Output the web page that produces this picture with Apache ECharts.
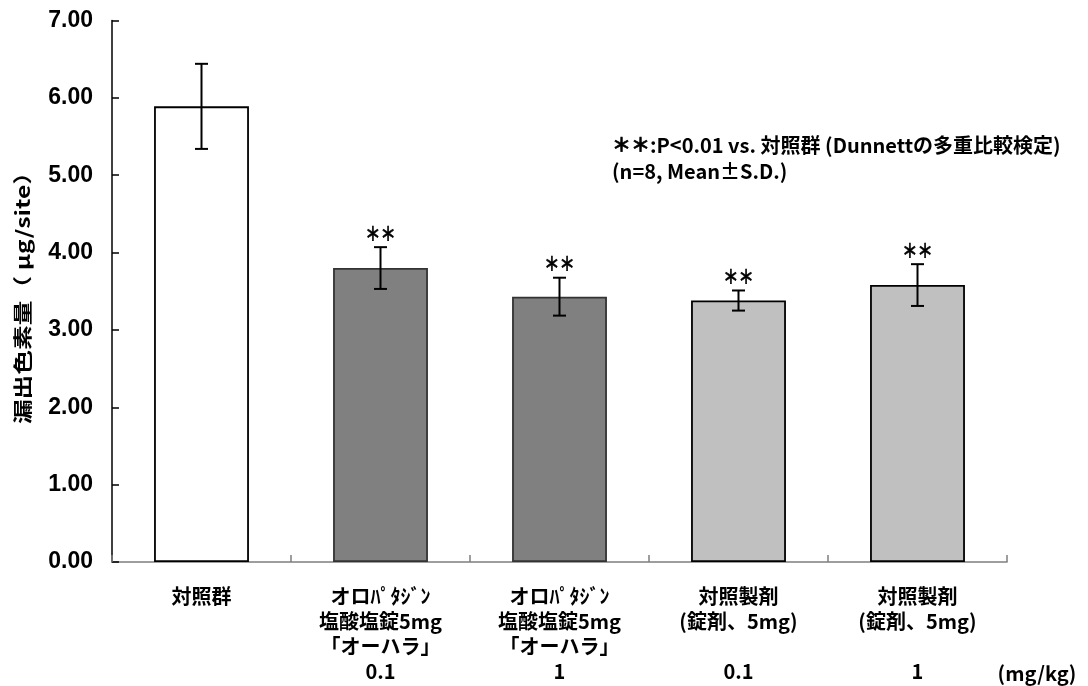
<!DOCTYPE html>
<html>
<head>
<meta charset="utf-8">
<script src="https://cdn.jsdelivr.net/npm/echarts@6/dist/echarts.min.js"></script>
<style>
  html, body { margin: 0; padding: 0; background: #ffffff; }
  #chart { width: 1088px; height: 686px; }
</style>
</head>
<body>
<div id="chart"></div>
<script>
// Treatment groups (multi-line names) and their doses (mg/kg)
const groupNames = [
  '対照群',
  'オロﾊﾟﾀｼﾞﾝ\n塩酸塩錠5mg\n「オーハラ」',
  'オロﾊﾟﾀｼﾞﾝ\n塩酸塩錠5mg\n「オーハラ」',
  '対照製剤\n(錠剤、5mg)',
  '対照製剤\n(錠剤、5mg)'
];
const doses = ['', '0.1', '1', '0.1', '1'];

// Leaked dye amount (µg/site): mean and S.D.
const means = [5.89, 3.80, 3.43, 3.38, 3.58];
const sds = [0.55, 0.27, 0.245, 0.13, 0.27];

// Significance marks vs. control
const sigMarks = ['', '＊＊', '＊＊', '＊＊', '＊＊'];

// Texts
const yAxisTitle = '漏出色素量（ μg/site）';
const doseUnit = '(mg/kg)';
const noteMark = '＊＊';
const noteLines = [':P<0.01 vs. 対照群 (Dunnettの多重比較検定)', '(n=8, Mean±S.D.)'];

// Bar appearance per group
const barFills = ['#ffffff', '#808080', '#808080', '#c0c0c0', '#c0c0c0'];
const barBorders = ['#000000', '#333333', '#333333', '#000000', '#000000'];

const CJK = '"Noto Sans CJK JP", "Noto Sans", sans-serif';
const LATIN = '"Liberation Sans", Arial, sans-serif';

const chart = echarts.init(document.getElementById('chart'), null, { renderer: 'canvas' });

const option = {
  backgroundColor: '#ffffff',
  animation: false,
  grid: { left: 112, right: 81, top: 20.5, bottom: 124, containLabel: false },
  xAxis: {
    type: 'category',
    data: groupNames,
    boundaryGap: true,
    axisLine: { show: true, lineStyle: { color: '#7f7f7f', width: 1.5 } },
    axisTick: { show: true, inside: true, length: 7, lineStyle: { color: '#7f7f7f', width: 1.5 } },
    axisLabel: {
      interval: 0,
      margin: 22,
      color: '#000',
      fontFamily: CJK,
      fontWeight: 'bold',
      fontSize: 20,
      lineHeight: 25,
      formatter: function (value, idx) {
        const lines = value.split('\n');
        while (lines.length < 3) lines.push(' ');
        lines.push(doses[idx] || ' ');
        return lines.join('\n');
      }
    },
    splitLine: { show: false }
  },
  yAxis: {
    type: 'value',
    min: 0,
    max: 7,
    interval: 1,
    axisLine: { show: true, lineStyle: { color: '#000', width: 1.5 } },
    axisTick: { show: true, inside: true, length: 7, lineStyle: { color: '#000', width: 1.5 } },
    axisLabel: {
      margin: 19,
      color: '#000',
      fontFamily: LATIN,
      fontWeight: 'bold',
      fontSize: 23,
      formatter: v => v.toFixed(2)
    },
    splitLine: { show: false }
  },
  series: [
    {
      type: 'bar',
      barWidth: '53%',
      data: means.map((m, i) => ({
        value: m,
        itemStyle: { color: barFills[i], borderColor: barBorders[i], borderWidth: 1.8 }
      })),
      z: 2
    },
    {
      type: 'custom',
      data: means.map((m, i) => [i, m, sds[i]]),
      encode: { x: 0, y: 1 },
      clip: false,
      z: 5,
      renderItem: function (params, api) {
        const i = api.value(0);
        const m = api.value(1);
        const s = api.value(2);
        const top = api.coord([i, m + s]);
        const bot = api.coord([i, m - s]);
        const x = top[0];
        const cap = 6.5;
        const stroke = { stroke: '#000', lineWidth: 2 };
        const children = [
          { type: 'line', shape: { x1: x, y1: top[1], x2: x, y2: bot[1] }, style: stroke },
          { type: 'line', shape: { x1: x - cap, y1: top[1], x2: x + cap, y2: top[1] }, style: stroke },
          { type: 'line', shape: { x1: x - cap, y1: bot[1], x2: x + cap, y2: bot[1] }, style: stroke }
        ];
        const mark = sigMarks[params.dataIndex];
        if (mark) {
          children.push({
            type: 'text',
            x: x,
            y: top[1] - 13.5,
            scaleX: 0.8,
            style: {
              text: mark,
              fill: '#000',
              stroke: '#000',
              lineWidth: 0.6,
              font: 'bold 19px ' + CJK,
              align: 'center',
              verticalAlign: 'middle'
            }
          });
        }
        return { type: 'group', children: children };
      }
    }
  ],
  graphic: [
    {
      type: 'text',
      x: 23,
      y: 292,
      rotation: Math.PI / 2,
      scaleX: 1.3,
      style: {
        text: yAxisTitle,
        fill: '#000',
        font: 'bold 19px ' + CJK,
        align: 'center',
        verticalAlign: 'middle'
      }
    },
    {
      type: 'text',
      x: 1037,
      y: 673,
      style: {
        text: doseUnit,
        fill: '#000',
        font: 'bold 20px ' + CJK,
        align: 'center',
        verticalAlign: 'middle'
      }
    },
    {
      type: 'text',
      x: 612,
      y: 145,
      style: {
        text: '{m|' + noteMark + '}' + noteLines[0],
        fill: '#000',
        font: 'bold 20px ' + CJK,
        align: 'left',
        verticalAlign: 'middle',
        rich: {
          m: {
            fontFamily: CJK,
            fontWeight: 'bold',
            fontSize: 19,
            fill: '#000',
            stroke: '#000',
            lineWidth: 0.6
          }
        }
      }
    },
    {
      type: 'text',
      x: 612,
      y: 171,
      style: {
        text: noteLines[1],
        fill: '#000',
        font: 'bold 20px ' + CJK,
        align: 'left',
        verticalAlign: 'middle'
      }
    }
  ]
};

chart.setOption(option);
</script>
</body>
</html>
